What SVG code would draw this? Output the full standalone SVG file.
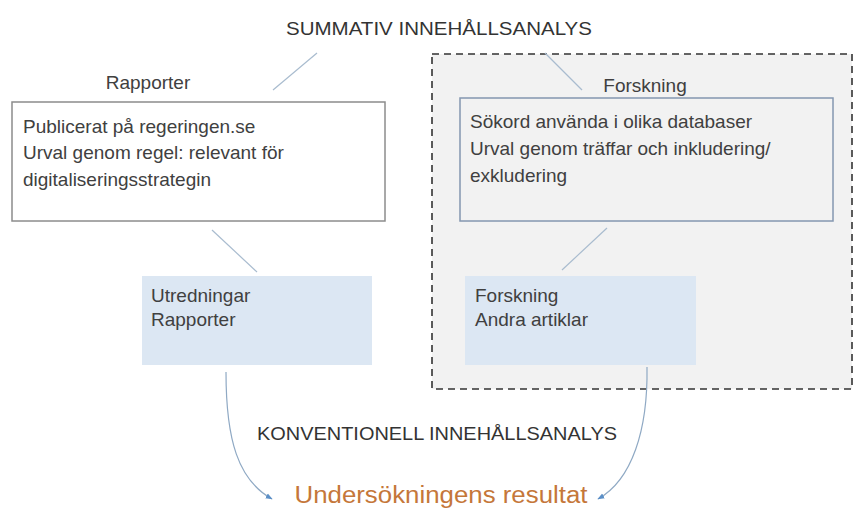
<svg xmlns="http://www.w3.org/2000/svg" width="856" height="509" viewBox="0 0 856 509">
<defs>
<style>
text{font-family:"Liberation Sans",Arial,sans-serif;fill:#404040}
.t{font-size:19px}
.h{font-size:19px;fill:#333}
.conn{fill:none;stroke:#a9bccf;stroke-width:1.2}
.arr{fill:none;stroke:#8fa9c4;stroke-width:1.2;marker-end:url(#ah)}
</style>
<marker id="ah" viewBox="0 0 10 10" refX="9" refY="5" markerWidth="7" markerHeight="7" orient="auto" markerUnits="userSpaceOnUse">
<path d="M0,1 L10,5 L0,9 z" fill="#5b8fc7"/>
</marker>
</defs>
<rect width="856" height="509" fill="#fff"/>
<g id="research-area">
<rect x="432" y="54" width="420" height="335" fill="#f2f2f2" stroke="#333" stroke-width="1.6" stroke-dasharray="7,5"/>
</g>
<g id="title-summativ">
<text class="h" x="439" y="35" text-anchor="middle" textLength="306" lengthAdjust="spacingAndGlyphs">SUMMATIV INNEHÅLLSANALYS</text>
</g>
<g id="label-rapporter">
<text class="t" x="148" y="89" text-anchor="middle">Rapporter</text>
</g>
<g id="label-forskning">
<text class="t" x="645" y="92" text-anchor="middle">Forskning</text>
</g>
<g id="box-rapporter">
<rect x="12" y="102" width="373" height="119" fill="#fff" stroke="#8c8c8c" stroke-width="1.5"/>
<text class="t" x="23" y="133">Publicerat på regeringen.se</text>
<text class="t" x="23" y="159">Urval genom regel: relevant för</text>
<text class="t" x="23" y="186">digitaliseringsstrategin</text>
</g>
<g id="box-forskning">
<rect x="460" y="98" width="373" height="123" fill="#f2f2f2" stroke="#8497b0" stroke-width="1.5"/>
<text class="t" x="470" y="128">Sökord använda i olika databaser</text>
<text class="t" x="470" y="155">Urval genom träffar och inkludering/</text>
<text class="t" x="470" y="182">exkludering</text>
</g>
<g id="box-utredningar">
<rect x="142" y="276" width="230" height="89" fill="#dce7f3"/>
<text class="t" x="151" y="302">Utredningar</text>
<text class="t" x="151" y="326">Rapporter</text>
</g>
<g id="box-artiklar">
<rect x="465" y="276" width="231" height="89" fill="#dce7f3"/>
<text class="t" x="475" y="302">Forskning</text>
<text class="t" x="475" y="326">Andra artiklar</text>
</g>
<g id="title-konventionell">
<text class="h" x="437" y="440" text-anchor="middle" textLength="360" lengthAdjust="spacingAndGlyphs">KONVENTIONELL INNEHÅLLSANALYS</text>
</g>
<g id="result">
<text x="441" y="503" text-anchor="middle" style="font-size:23px;fill:#c5773a" textLength="293" lengthAdjust="spacingAndGlyphs">Undersökningens  resultat</text>
</g>
<g id="connectors">
<line class="conn" x1="317" y1="53" x2="273" y2="90"/>
<line class="conn" x1="545" y1="53" x2="582" y2="90"/>
<line class="conn" x1="212" y1="230" x2="257" y2="272"/>
<line class="conn" x1="607" y1="228" x2="562" y2="270"/>
<path class="arr" d="M226,372 C226,440 238,480 272,499"/>
<path class="arr" d="M647,367 C648,430 632,480 598,499"/>
</g>
</svg>
